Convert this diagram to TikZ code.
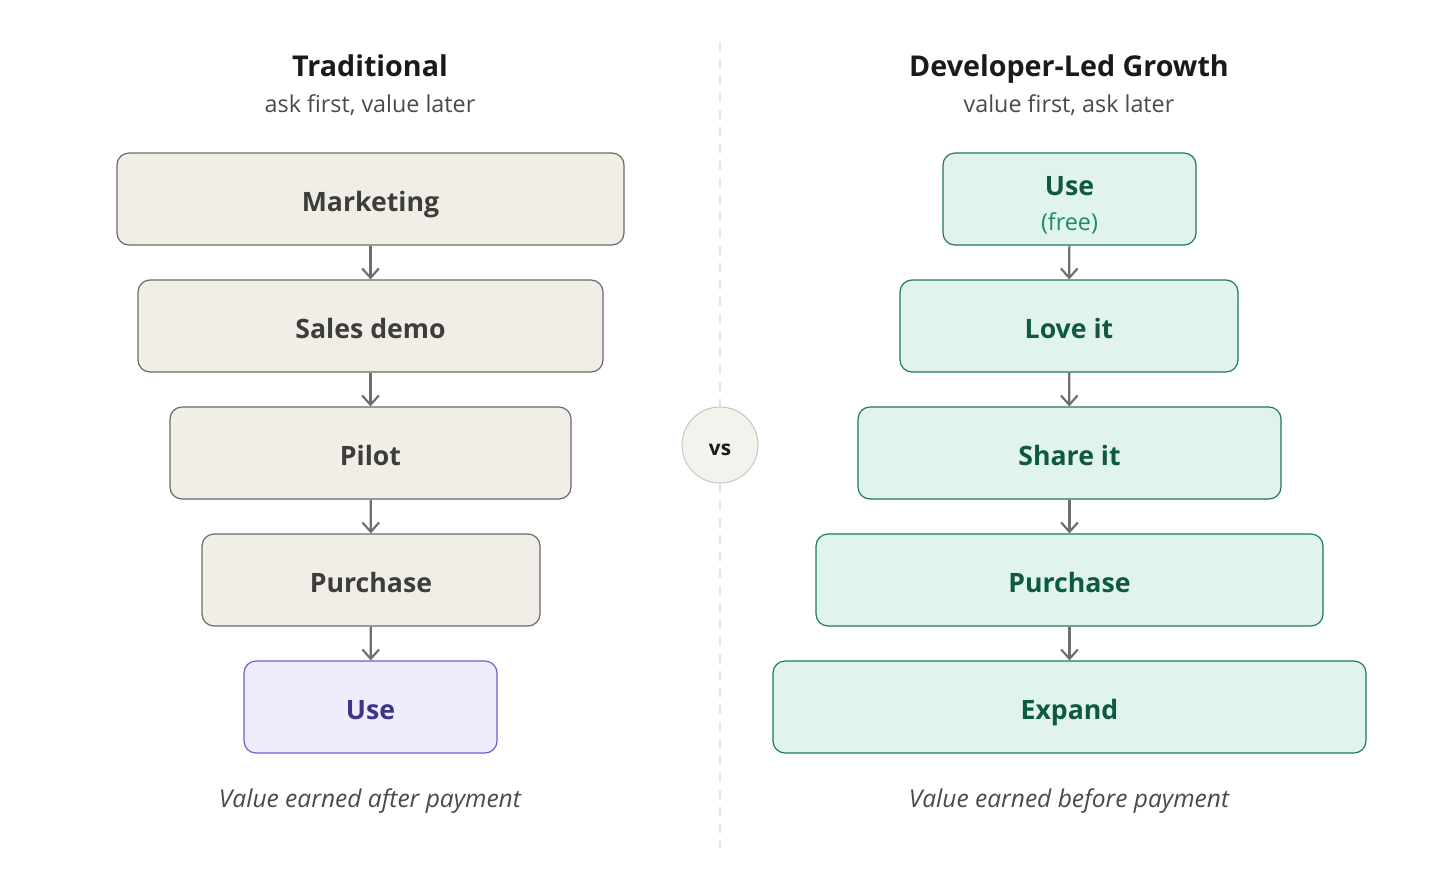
\documentclass[tikz,border=0pt]{standalone}
\usepackage{fontspec}
\setmainfont{Open Sans}
\usetikzlibrary{arrows.meta}
\definecolor{bgfill}{HTML}{F1EEE8}
\definecolor{bgdraw}{HTML}{6B6A65}
\definecolor{bgtext}{HTML}{3D3D3A}
\definecolor{gnfill}{HTML}{E1F4EC}
\definecolor{gndraw}{HTML}{1F7A57}
\definecolor{gntext}{HTML}{0D5A3F}
\definecolor{gnsub}{HTML}{1E8A62}
\definecolor{pufill}{HTML}{EEECFD}
\definecolor{pudraw}{HTML}{6A5FCF}
\definecolor{putext}{HTML}{3C3489}
\definecolor{arr}{HTML}{6E6E6E}
\definecolor{titlec}{HTML}{1A1A1A}
\definecolor{subc}{HTML}{4A4A4A}
\definecolor{vsfill}{HTML}{F3F2EC}
\definecolor{vsdraw}{HTML}{C9C8C0}
\definecolor{divc}{HTML}{E4E4E4}
\tikzset{
  capc/.style={text height=18pt, text depth=0pt},
  box/.style={rounded corners=12*0.75pt, line width=0.9pt, inner sep=0pt, align=center, font=\fontsize{20}{24}\selectfont\bfseries},
  trad/.style={box, capc, fill=bgfill, draw=bgdraw, text=bgtext},
  dlg/.style={box, capc, fill=gnfill, draw=gndraw, text=gntext},
  pur/.style={box, capc, fill=pufill, draw=pudraw, text=putext},
  flow/.style={draw=arr, line width=1.6pt, -{Straight Barb[length=7pt,width=12.5pt,line width=1.6pt]}},
  ttl/.style={anchor=base, inner sep=0pt, font=\fontsize{21.5}{26}\selectfont\bfseries, text=titlec},
  sub/.style={anchor=base, inner sep=0pt, font=\fontsize{17.5}{20}\selectfont, text=subc},
  note/.style={anchor=base, inner sep=0pt, font=\fontsize{18.4}{20}\selectfont\itshape, text=subc},
}
\begin{document}
\begin{tikzpicture}[x=0.75pt,y=-0.75pt]
\useasboundingbox (0,0) rectangle (1440,890);
\fill[white] (0,0) rectangle (1440,890);
% divider
\coordinate (dtop) at (720,42);
\coordinate (dbot) at (720,848);
\draw[divc, line width=1.1pt, dash pattern=on 6.75pt off 6pt] (dtop) -- (dbot);
\node[circle, fill=vsfill, draw=vsdraw, line width=0.8pt, minimum size=76*0.75pt, inner sep=0pt] (vs) at (720,445) {};
\node[anchor=base, inner sep=0pt, font=\fontsize{15.5}{18}\selectfont\bfseries, text=titlec] (vst) at (720,455) {vs};

% Left
\node[ttl] (lt) at (370,76) {Traditional};
\node[sub] (ls) at (370,112) {ask first, value later};
\node[trad, minimum width=507*0.75pt, minimum height=92*0.75pt] (l1) at (370.5,199) {Marketing};
\node[trad, minimum width=465*0.75pt, minimum height=92*0.75pt] (l2) at (370.5,326) {Sales demo};
\node[trad, minimum width=401*0.75pt, minimum height=92*0.75pt] (l3) at (370.5,453) {Pilot};
\node[trad, minimum width=338*0.75pt, minimum height=92*0.75pt] (l4) at (371,580) {Purchase};
\node[pur, minimum width=253*0.75pt, minimum height=92*0.75pt] (l5) at (370.5,707) {Use};
\node[note] (ln) at (370,807) {Value earned after payment};
\draw[flow] (l1) -- (l2);
\draw[flow] (l2) -- (l3);
\draw[flow] (l3) -- (l4);
\draw[flow] (l4) -- (l5);

% Right
\node[ttl] (rt) at (1069,76) {Developer-Led Growth};
\node[sub] (rs) at (1069,112) {value first, ask later};
\node[box, fill=gnfill, draw=gndraw, minimum width=253*0.75pt, minimum height=92*0.75pt] (r1) at (1069.5,199) {};
\node[anchor=base, inner sep=0pt, font=\fontsize{20}{24}\selectfont\bfseries, text=gntext] (r1a) at (1069.5,195) {Use};
\node[anchor=base, inner sep=0pt, font=\fontsize{17.5}{20}\selectfont, text=gnsub] (r1b) at (1069.5,230) {(free)};
\node[dlg, minimum width=338*0.75pt, minimum height=92*0.75pt] (r2) at (1069,326) {Love it};
\node[dlg, minimum width=423*0.75pt, minimum height=92*0.75pt] (r3) at (1069.5,453) {Share it};
\node[dlg, minimum width=507*0.75pt, minimum height=92*0.75pt] (r4) at (1069.5,580) {Purchase};
\node[dlg, minimum width=593*0.75pt, minimum height=92*0.75pt] (r5) at (1069.5,707) {Expand};
\node[note] (rn) at (1069,807) {Value earned before payment};
\draw[flow] (r1) -- (r2);
\draw[flow] (r2) -- (r3);
\draw[flow] (r3) -- (r4);
\draw[flow] (r4) -- (r5);
\end{tikzpicture}
\end{document}
